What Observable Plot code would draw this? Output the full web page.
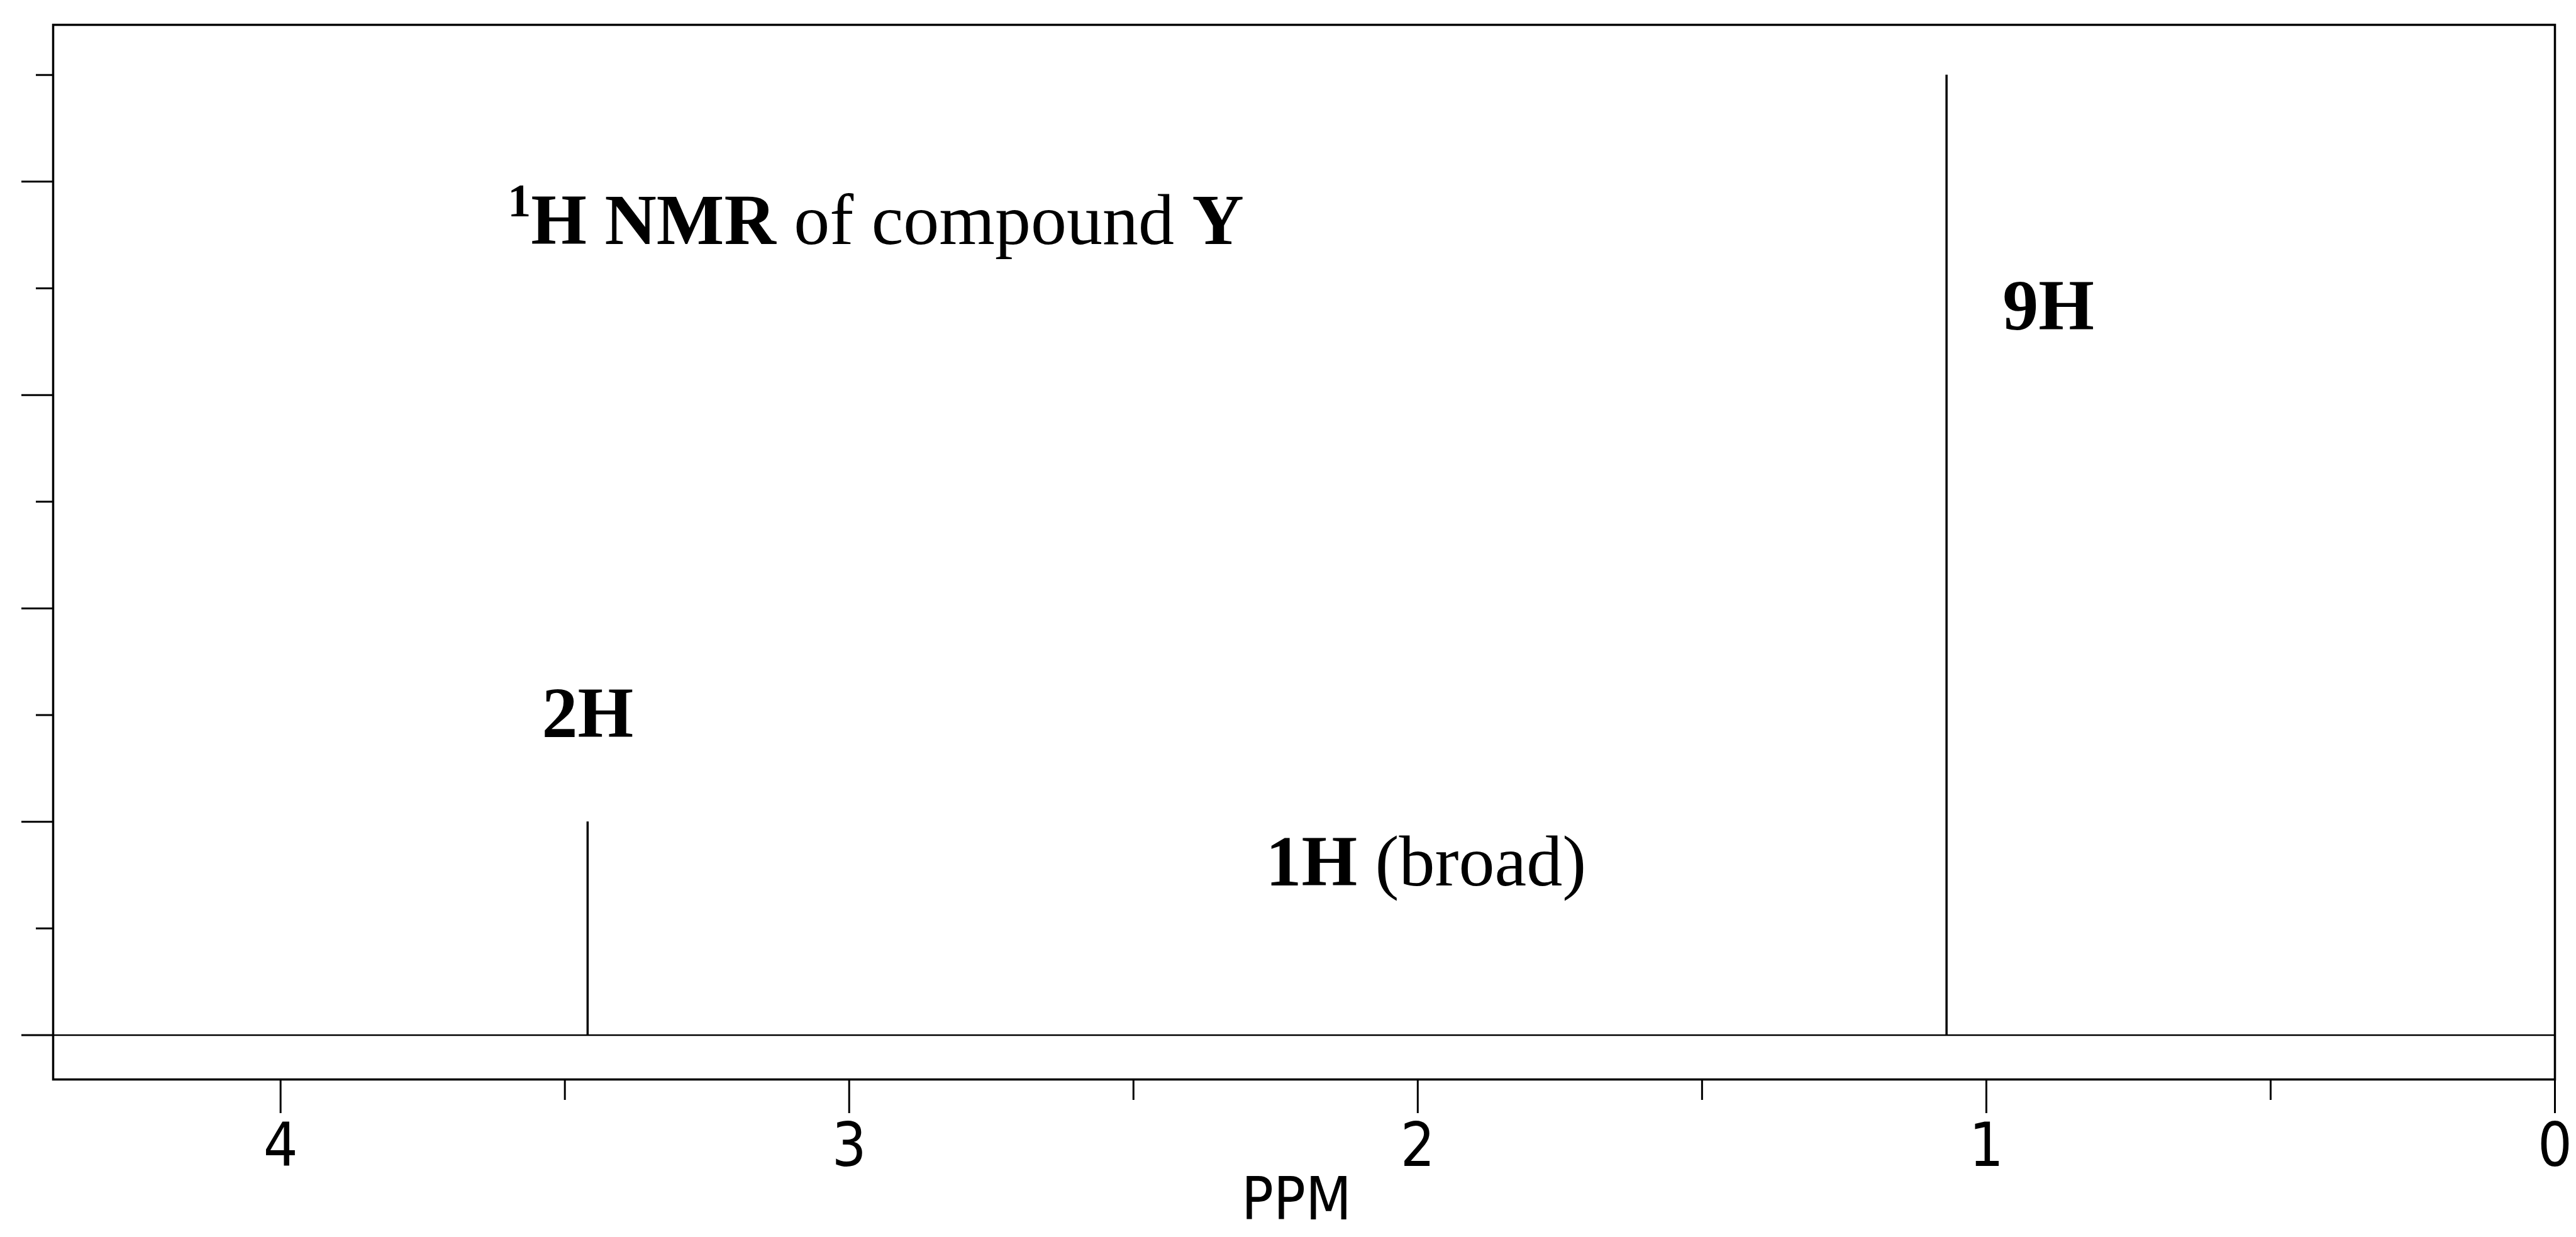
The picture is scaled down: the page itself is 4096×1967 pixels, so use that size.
<!DOCTYPE html>
<html><head><meta charset="utf-8">
<script src="https://cdn.jsdelivr.net/npm/d3@7"></script>
<script src="https://cdn.jsdelivr.net/npm/@observablehq/plot@0.6"></script>
<style>html,body{margin:0;padding:0;background:#fff;overflow:hidden}</style>
</head><body><div id="chart"></div>
<script>
// --- data ---
const peakPpm = [3.46, 1.07];
const peakHeight = [2, 9];
const majorTicks = [4, 3, 2, 1, 0];
const minorTicks = [3.5, 2.5, 1.5, 0.5];
const yLongTicks = [0, 2, 4, 6, 8];
const yShortTicks = [1, 3, 5, 7, 9];
const xDomain = [4.4, 0];
const yDomain = [-0.416, 9.47];
const xLabel = "PPM";
const annotationText = [
  [["1", "sup"], ["H", "b"], [" NMR", "b"], [" of compound ", "r"], ["Y", "b"]],
  [["2H", "b"]],
  [["1H", "b"], [" (broad)", "r"]],
  [["9H", "b"]]
];
const annotationPpm = [3.60, 3.54, 2.267, 0.971];
const annotationY = [7.41, 2.79, 1.40, 6.61];

const peaks = peakPpm.map((p, i) => ({ppm: p, h: peakHeight[i]}));

const sansNarrow = "'Liberation Sans Narrow','DejaVu Sans Condensed','Liberation Sans',sans-serif";
const W = 4096, H = 1967;

const chart = Plot.plot({
  width: W, height: H,
  marginLeft: 84, marginRight: 34, marginTop: 39, marginBottom: 251,
  style: {fontFamily: sansNarrow, background: "#fff", color: "#000"},
  x: {domain: xDomain, label: null},
  y: {domain: yDomain, label: null},
  marks: [
    Plot.ruleY([0], {stroke: "#000", strokeWidth: 2.5}),
    Plot.ruleX(peaks, {x: "ppm", y1: 0, y2: "h", stroke: "#000", strokeWidth: 3.5}),
    Plot.frame({stroke: "#000", strokeWidth: 3.5}),
    Plot.axisX(majorTicks, {anchor: "bottom", tickSize: 54, tickPadding: 15, fontSize: 96, fontFamily: sansNarrow, stroke: "#000", strokeWidth: 3, label: null, tickFormat: d => String(d)}),
    Plot.axisX(minorTicks, {anchor: "bottom", tickSize: 33, stroke: "#000", strokeWidth: 3, label: null, tickFormat: () => ""}),
    Plot.axisY(yLongTicks, {anchor: "left", tickSize: 50, stroke: "#000", strokeWidth: 3, label: null, tickFormat: () => ""}),
    Plot.axisY(yShortTicks, {anchor: "left", tickSize: 27, stroke: "#000", strokeWidth: 3, label: null, tickFormat: () => ""}),
    Plot.text([xLabel], {frameAnchor: "bottom", dy: 222, dx: -12, lineAnchor: "bottom", fontSize: 94, fontFamily: sansNarrow, fill: "#000", text: d => d})
  ]
});
document.getElementById("chart").appendChild(chart);

// rich-text annotations (bold / regular / superscript) placed via the plot's scales
const sx = chart.scale("x"), sy = chart.scale("y");
const g = d3.select(chart).append("g")
  .attr("font-family", "'Liberation Serif','Times New Roman',serif")
  .attr("font-size", 114)
  .attr("text-anchor", "start")
  .attr("fill", "#000");
annotationText.forEach((parts, i) => {
  const t = g.append("text")
    .attr("x", sx.apply(annotationPpm[i]))
    .attr("y", sy.apply(annotationY[i]))
    .attr("text-anchor", "start")
    .style("white-space", "pre");
  let raised = false;
  parts.forEach(([s, kind]) => {
    const ts = t.append("tspan").text(s);
    if (kind === "sup") {
      ts.attr("font-weight", "bold").attr("font-size", 74).attr("dy", -44);
      raised = true;
    } else {
      if (raised) { ts.attr("dy", 44); raised = false; }
      ts.attr("font-weight", kind === "b" ? "bold" : "normal");
    }
  });
});
</script>
</body></html>
